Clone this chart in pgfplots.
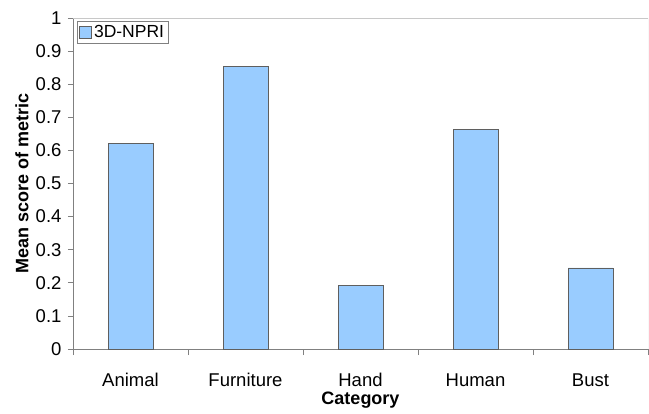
\documentclass[border=0pt]{standalone}
\usepackage{pgfplots}
\pgfplotsset{compat=1.18}
\usepackage{fontspec}
\setmainfont{Liberation Sans}
\definecolor{barblue}{RGB}{153,204,255}
\definecolor{baredge}{RGB}{95,95,95}
\definecolor{axgray}{RGB}{128,128,128}
\definecolor{framegray}{RGB}{200,200,200}
\begin{document}
\begin{tikzpicture}
\begin{axis}[
  width=575pt, height=331pt, scale only axis,
  xmin=-0.5, xmax=4.5, ymin=0, ymax=1,
  axis lines*=left,
  axis line style={draw=axgray, line width=0.8pt, -},
  tick align=outside,
  tick style={draw=axgray, line width=0.8pt},
  major tick length=5pt,
  minor tick length=6pt,
  xtick={0,1,2,3,4},
  xticklabels={Animal,Furniture,Hand,Human,Bust},
  major x tick style={draw=none},
  minor xtick={-0.5,0.5,1.5,2.5,3.5,4.5},
  ytick={0,0.1,0.2,0.3,0.4,0.5,0.6,0.7,0.8,0.9,1},
  /pgf/number format/assume math mode=true,
  /pgf/number format/fixed,
  /pgf/number format/precision=1,
  ticklabel style={font=\fontsize{18.5}{22}\selectfont},
  xticklabel style={anchor=center, yshift=-26pt},
  yticklabel style={anchor=east, xshift=-3pt},
  xlabel={\bfseries Category},
  ylabel={\bfseries Mean score of metric},
  label style={font=\fontsize{18}{21}\selectfont},
  xlabel style={at={(axis description cs:0.5,0)}, anchor=center, yshift=-51pt},
  ylabel style={at={(axis description cs:0,0.5)}, anchor=center, yshift=51pt},
  legend style={at={(0.007,0.99)}, anchor=north west, draw=axgray,
    font=\fontsize{17.5}{20}\selectfont, inner sep=2pt,
    legend cell align=left},
  legend image code/.code={\draw[#1] (0pt,-6pt) rectangle (12pt,6pt);},
]
\addplot[ybar, bar width=0.39, fill=barblue, draw=baredge, line width=0.8pt]
  coordinates {(0,0.620) (1,0.853) (2,0.193) (3,0.662) (4,0.245)};
\addlegendentry{3D-NPRI}
\draw[framegray, line width=0.8pt] (rel axis cs:0,1) -- (rel axis cs:1,1) -- (rel axis cs:1,0);
\end{axis}
\pgfresetboundingbox
\path ([xshift=-73pt,yshift=-64pt]current axis.south west) rectangle ([xshift=1pt,yshift=18pt]current axis.north east);
\end{tikzpicture}
\end{document}
